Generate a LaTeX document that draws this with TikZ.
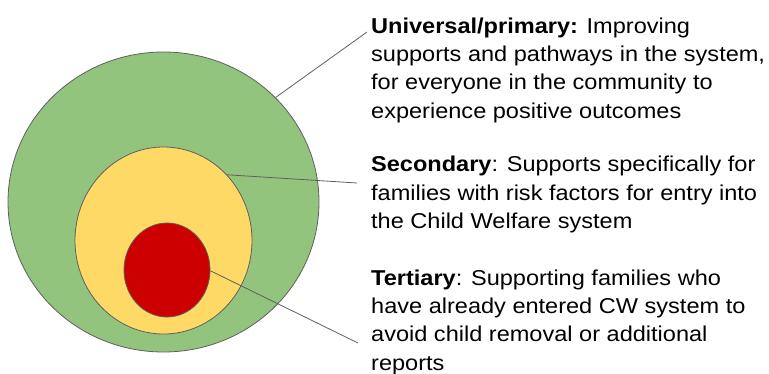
\documentclass[tikz,border=0pt]{standalone}
\usepackage{fontspec}
\setmainfont[FakeStretch=1.095]{Liberation Sans}
\usetikzlibrary{shapes.geometric,positioning}

\definecolor{ringgreen}{HTML}{93C47D}
\definecolor{ringyellow}{HTML}{FFD966}
\definecolor{ringred}{HTML}{CC0000}
\definecolor{edgegray}{HTML}{5F5F5F}

\begin{document}
\begin{tikzpicture}[x=1pt,y=-1pt,
    ring/.style={ellipse,draw=edgegray,line width=0.8pt,inner sep=0pt},
    note/.style={anchor=north west,inner sep=0pt,align=left,
      font=\fontsize{21.5}{28.3}\selectfont},
    lead/.style={draw=edgegray,line width=0.8pt}]
  \useasboundingbox (0,0) rectangle (769,373);

  \node[ring,fill=ringgreen,minimum width=311pt,minimum height=300pt] (outer) at (163.5,202) {};
  \node[ring,fill=ringyellow,minimum width=177pt,minimum height=187pt] (middle) at (163.5,240.5) {};
  \node[ring,fill=ringred,minimum width=86pt,minimum height=94pt] (inner) at (167,270) {};

  \node[note] (univ) at (371,17.5) {\textbf{Universal/primary:} Improving\\
    supports and pathways in the system,\\
    for everyone in the community to\\
    experience positive outcomes};
  \node[note] (sec) at (371,156) {\textbf{Secondary}: Supports specifically for\\
    families with risk factors for entry into\\
    the Child Welfare system};
  \node[note] (tert) at (371,269.5) {\textbf{Tertiary}: Supporting families who\\
    have already entered CW system to\\
    avoid child removal or additional\\
    reports};

  \coordinate (u1) at (367,32);
  \coordinate (s1) at (357,183);
  \coordinate (t1) at (358,343);

  \draw[lead] (outer.43) -- (u1);
  \draw[lead] (middle.46) -- (s1);
  \draw[lead] (inner.-1) -- (t1);
\end{tikzpicture}
\end{document}
